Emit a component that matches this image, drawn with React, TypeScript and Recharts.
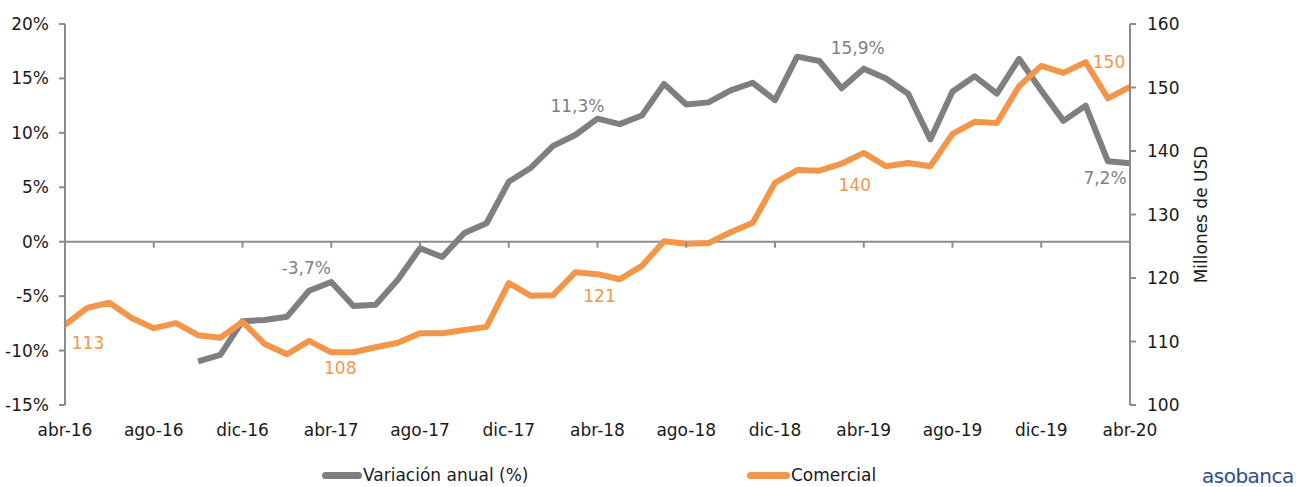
import React from 'react';
import { LineChart, Line, XAxis, YAxis, ReferenceLine } from 'recharts';

const months: string[] = [
  'abr-16', 'may-16', 'jun-16', 'jul-16', 'ago-16', 'sep-16', 'oct-16', 'nov-16', 'dic-16',
  'ene-17', 'feb-17', 'mar-17', 'abr-17', 'may-17', 'jun-17', 'jul-17', 'ago-17', 'sep-17', 'oct-17', 'nov-17', 'dic-17',
  'ene-18', 'feb-18', 'mar-18', 'abr-18', 'may-18', 'jun-18', 'jul-18', 'ago-18', 'sep-18', 'oct-18', 'nov-18', 'dic-18',
  'ene-19', 'feb-19', 'mar-19', 'abr-19', 'may-19', 'jun-19', 'jul-19', 'ago-19', 'sep-19', 'oct-19', 'nov-19', 'dic-19',
  'ene-20', 'feb-20', 'mar-20', 'abr-20',
];

const variacionAnual: (number | null)[] = [
  null, null, null, null, null, null,
  -11.0, -10.4, -7.3, -7.2, -6.9, -4.5, -3.7, -5.9, -5.8, -3.5, -0.6, -1.4, 0.8, 1.7,
  5.5, 6.8, 8.8, 9.8, 11.3, 10.8, 11.6, 14.5, 12.6, 12.8, 13.9, 14.6, 13.0,
  17.0, 16.6, 14.1, 15.9, 15.0, 13.6, 9.4, 13.8, 15.2, 13.6, 16.8, 13.9,
  11.1, 12.5, 7.4, 7.2,
];

const comercial: number[] = [
  112.6, 115.3, 116.1, 113.7, 112.1, 112.9, 111.0, 110.6, 113.1,
  109.6, 108.0, 110.1, 108.3, 108.3, 109.1, 109.8, 111.3, 111.3, 111.8, 112.3, 119.2,
  117.2, 117.3, 120.9, 120.6, 119.8, 121.9, 125.8, 125.4, 125.5, 127.2, 128.7, 135.0,
  137.0, 136.9, 138.0, 139.7, 137.6, 138.1, 137.6, 142.7, 144.6, 144.4, 150.2, 153.4,
  152.3, 154.0, 148.3, 150.1,
];

const leftTicks: number[] = [-15, -10, -5, 0, 5, 10, 15, 20];
const rightTicks: number[] = [100, 110, 120, 130, 140, 150, 160];

const variacionLabels: Record<number, string> = { 12: '-3,7%', 24: '11,3%', 36: '15,9%', 48: '7,2%' };
const comercialLabels: Record<number, string> = { 0: '113', 12: '108', 24: '121', 36: '140', 48: '150' };

// label offsets (style)
const variacionOffsets: Record<number, [number, number]> = { 12: [-25, -14], 24: [-20, -13], 36: [-6, -21], 48: [-25, 15] };
const comercialOffsets: Record<number, [number, number]> = { 0: [23, 18], 12: [9, 16], 24: [2, 22], 36: [-9, 32], 48: [-21, -25] };

const data = months.map((m, i) => ({ month: m, variacion: variacionAnual[i], comercial: comercial[i] }));

const GRAY = '#7f7f7f';
const ORANGE = '#f4964a';
const AXIS = '#8c8c8c';
const FONT = '"DejaVu Sans", sans-serif';
const FS = 17;

const TOP = 24;
const PLOT_H = 381;
const LEFT_DOMAIN: [number, number] = [-15, 20];
const ZERO_FROM_BOTTOM = (PLOT_H * (0 - LEFT_DOMAIN[0])) / (LEFT_DOMAIN[1] - LEFT_DOMAIN[0]);

const XTick = (props: any) => {
  const { x, y, payload } = props;
  return (
    <g>
      <line x1={x} x2={x} y1={y - ZERO_FROM_BOTTOM} y2={y - ZERO_FROM_BOTTOM + 6} stroke={AXIS} strokeWidth={2} />
      <text x={x} y={y + 25} textAnchor="middle" dominantBaseline="central" fill="#1a1a1a" fontSize={FS} fontFamily={FONT}>
        {payload.value}
      </text>
    </g>
  );
};

const makeLabel = (labels: Record<number, string>, offsets: Record<number, [number, number]>, color: string) =>
  (props: any) => {
    const { x, y, index } = props;
    if (labels[index] === undefined) return null;
    const [dx, dy] = offsets[index];
    return (
      <text x={x + dx} y={y + dy} textAnchor="middle" dominantBaseline="central" fill={color} fontSize={FS} fontFamily={FONT}>
        {labels[index]}
      </text>
    );
  };

export default function App() {
  return (
    <div style={{ position: 'relative', width: 1302, height: 487, background: '#fff', fontFamily: FONT }}>
      <style>{'body{margin:0;}'}</style>
      <LineChart width={1302} height={487} data={data} margin={{ top: TOP, right: 87, left: 0, bottom: 42 }}>
        <XAxis
          dataKey="month"
          interval={3}
          axisLine={false}
          tickLine={false}
          tickSize={0}
          tickMargin={0}
          height={40}
          tick={<XTick />}
        />
        <YAxis
          yAxisId="left"
          domain={LEFT_DOMAIN}
          ticks={leftTicks}
          tickFormatter={(v: number) => `${v}%`}
          width={65}
          axisLine={{ stroke: AXIS, strokeWidth: 2 }}
          tickLine={{ stroke: AXIS, strokeWidth: 2 }}
          tickSize={6}
          tickMargin={10}
          tick={{ fill: '#1a1a1a', fontSize: FS, fontFamily: FONT }}
          interval={0}
        />
        <YAxis
          yAxisId="right"
          orientation="right"
          domain={[100, 160]}
          ticks={rightTicks}
          width={85}
          axisLine={{ stroke: AXIS, strokeWidth: 2 }}
          tickLine={{ stroke: AXIS, strokeWidth: 2 }}
          tickSize={6}
          tickMargin={11}
          tick={{ fill: '#1a1a1a', fontSize: FS, fontFamily: FONT }}
          interval={0}
          label={(p: any) => {
            const vb = p.viewBox;
            const cx = vb.x + 71;
            const cy = vb.y + vb.height / 2;
            return (
              <text x={cx} y={cy} transform={`rotate(-90, ${cx}, ${cy})`} textAnchor="middle" dominantBaseline="central" fill="#1a1a1a" fontSize={FS} fontFamily={FONT}>
                Millones de USD
              </text>
            );
          }}
        />
        <ReferenceLine yAxisId="left" y={0} stroke={AXIS} strokeWidth={2} />
        <Line
          yAxisId="left"
          type="linear"
          dataKey="variacion"
          stroke={GRAY}
          strokeWidth={6}
          strokeLinejoin="round"
          dot={false}
          activeDot={false}
          isAnimationActive={false}
          label={makeLabel(variacionLabels, variacionOffsets, GRAY)}
        />
        <Line
          yAxisId="right"
          type="linear"
          dataKey="comercial"
          stroke={ORANGE}
          strokeWidth={6}
          strokeLinejoin="round"
          dot={false}
          activeDot={false}
          isAnimationActive={false}
          label={makeLabel(comercialLabels, comercialOffsets, ORANGE)}
        />
      </LineChart>
      <div style={{ position: 'absolute', left: 322, top: 465, display: 'flex', alignItems: 'center', fontSize: FS, color: '#1a1a1a', whiteSpace: 'nowrap' }}>
        <span style={{ display: 'inline-block', width: 40, height: 7, borderRadius: 4, background: GRAY, marginRight: 1 }} />
        <span>Variación anual (%)</span>
      </div>
      <div style={{ position: 'absolute', left: 747, top: 465, display: 'flex', alignItems: 'center', fontSize: FS, color: '#1a1a1a', whiteSpace: 'nowrap' }}>
        <span style={{ display: 'inline-block', width: 43, height: 7, borderRadius: 4, background: ORANGE, marginRight: 1 }} />
        <span>Comercial</span>
      </div>
      <div style={{ position: 'absolute', left: 1202, top: 465, fontSize: 20, fontWeight: 500, color: '#2c4c8f', letterSpacing: -0.5, lineHeight: '22px' }}>
        asobanca
      </div>
    </div>
  );
}
